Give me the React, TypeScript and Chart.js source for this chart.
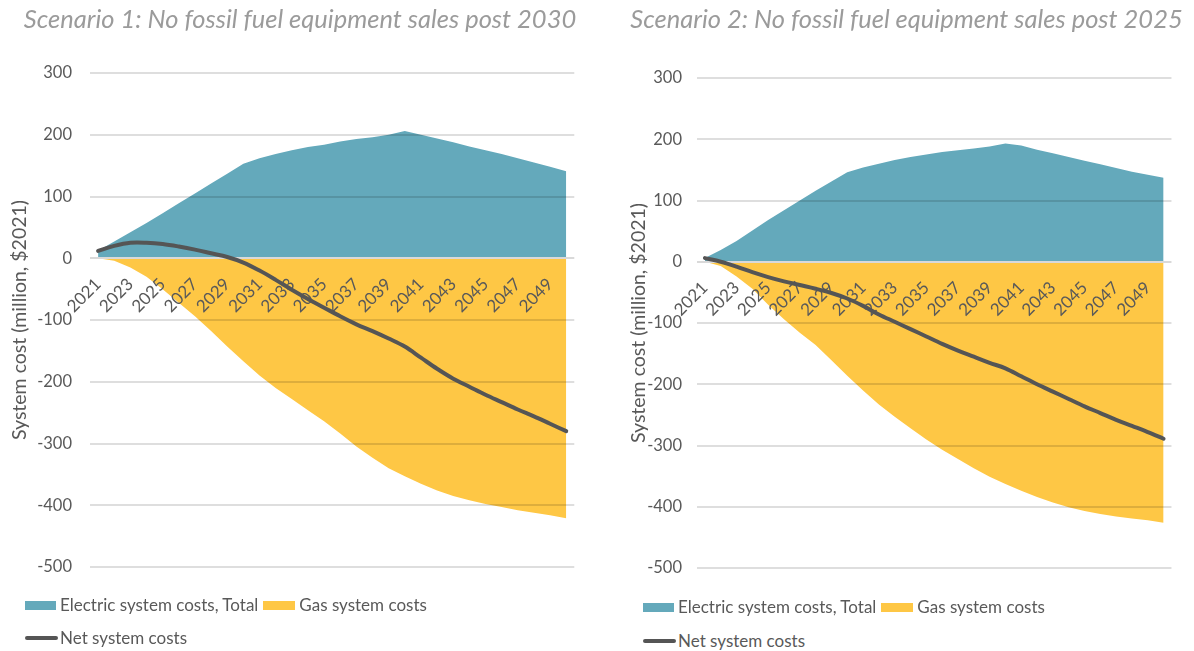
import React, { useEffect, useRef } from 'react';
import { Chart, registerables } from 'chart.js';

Chart.register(...registerables);

// ---------- data ----------
const years = [
  '2021', '2022', '2023', '2024', '2025', '2026', '2027', '2028', '2029', '2030',
  '2031', '2032', '2033', '2034', '2035', '2036', '2037', '2038', '2039', '2040',
  '2041', '2042', '2043', '2044', '2045', '2046', '2047', '2048', '2049', '2050',
];

const yMin = -500;
const yMax = 300;
const yStep = 100;

const titles = [
  'Scenario 1: No fossil fuel equipment sales post 2030',
  'Scenario 2: No fossil fuel equipment sales post 2025',
];

const seriesNames = ['Electric system costs, Total', 'Gas system costs', 'Net system costs'];
const yAxisTitle = 'System cost (million, $2021)';

// Scenario 1
const s1Electric = [
  12, 27, 42, 57, 73, 89, 105, 121, 137, 153,
  162, 169, 175, 180, 184, 189, 193, 196, 200, 206,
  200, 194, 188, 181, 175, 169, 162, 155, 148, 141,
];
const s1Gas = [
  0, -4, -15, -30, -50, -72, -94, -118, -143, -167,
  -190, -210, -228, -246, -264, -284, -305, -323, -340, -353,
  -365, -376, -385, -392, -398, -403, -408, -412, -416, -421,
];
const s1Net = [
  12, 20, 25, 25, 23, 19, 14, 8, 2, -7,
  -20, -35, -51, -66, -80, -94, -107, -118, -130, -143,
  -161, -179, -195, -208, -221, -233, -245, -256, -268, -280,
];

// Scenario 2
const s2Electric = [
  6, 19, 34, 51, 68, 84, 100, 116, 131, 146,
  154, 160, 166, 171, 175, 179, 182, 185, 188, 193,
  190, 183, 177, 171, 165, 159, 153, 147, 142, 137,
];
const s2Gas = [
  0, -7, -24, -44, -70, -94, -116, -136, -161, -186,
  -210, -233, -253, -272, -290, -307, -322, -337, -351, -363,
  -374, -384, -393, -401, -407, -412, -416, -419, -422, -426,
];
const s2Net = [
  6, 0, -8, -17, -25, -32, -38, -44, -51, -60,
  -72, -86, -98, -110, -122, -134, -145, -155, -165, -174,
  -187, -200, -212, -224, -236, -247, -258, -268, -278, -289,
];

// ---------- style ----------
const TEAL = '#64A9BB';
const YELLOW = '#FEC745';
const NET = '#555555';
const TEXT = '#595959';
const TITLE = '#9B9B9B';
const FONT = 'Lato, "Noto Sans", sans-serif';

type ChartProps = {
  electric: number[];
  gas: number[];
  net: number[];
  left: number;
  width: number;
  height: number;
  padding: { top: number; left: number; right: number; bottom: number };
  yAxisWidth: number;
  tickPad: number;
  titlePad: number;
};

function ScenarioChart(p: ChartProps) {
  const ref = useRef<HTMLCanvasElement | null>(null);

  useEffect(() => {
    if (!ref.current) return;
    const chart = new Chart(ref.current, {
      type: 'line',
      data: {
        labels: years,
        datasets: [
          {
            label: seriesNames[0],
            data: p.electric,
            backgroundColor: TEAL,
            borderColor: 'rgba(0,0,0,0)',
            borderWidth: 0,
            pointRadius: 0,
            fill: 'origin',
            tension: 0,
          },
          {
            label: seriesNames[1],
            data: p.gas,
            backgroundColor: YELLOW,
            borderColor: 'rgba(0,0,0,0)',
            borderWidth: 0,
            pointRadius: 0,
            fill: 'origin',
            tension: 0,
          },
          {
            label: seriesNames[2],
            data: p.net,
            borderColor: NET,
            borderWidth: 4,
            pointRadius: 0,
            fill: false,
            tension: 0.35,
            borderCapStyle: 'round',
          },
        ],
      },
      options: {
        animation: false,
        responsive: false,
        devicePixelRatio: 1,
        layout: { padding: p.padding },
        plugins: {
          legend: { display: false },
          title: { display: false },
          tooltip: { enabled: false },
          filler: { drawTime: 'beforeDraw' },
        } as any,
        scales: {
          x: {
            type: 'category',
            axis: 'x',
            position: { y: 0 },
            offset: true,
            grid: { display: false, drawTicks: false },
            border: { display: false },
            ticks: {
              autoSkip: false,
              maxRotation: 45,
              minRotation: 45,
              padding: 16,
              color: TEXT,
              font: { family: FONT, size: 17 },
              callback: (_v: any, i: number) => (i % 2 === 0 ? years[i] : ''),
            },
          } as any,
          y: {
            type: 'linear',
            position: 'left',
            min: yMin,
            max: yMax,
            ticks: {
              stepSize: yStep,
              padding: p.tickPad,
              color: TEXT,
              font: { family: FONT, size: 16.5 },
            },
            grid: {
              drawTicks: false,
              lineWidth: 2,
              color: (ctx: any) => (ctx.tick && ctx.tick.value === 0 ? '#D9D9D9' : 'rgba(0,0,0,0.13)'),
            },
            border: { display: false },
            title: {
              display: true,
              text: yAxisTitle,
              color: TEXT,
              font: { family: FONT, size: 19.5 },
              padding: { top: p.titlePad, bottom: 0 },
            },
            afterFit: (scale: any) => {
              scale.width = p.yAxisWidth;
            },
          },
        },
      },
    });
    return () => chart.destroy();
  }, []);

  return (
    <canvas
      ref={ref}
      width={p.width}
      height={p.height}
      style={{ position: 'absolute', left: p.left, top: 0, width: p.width, height: p.height }}
    />
  );
}

function Legend({ left, top1, top2 }: { left: number; top1: number; top2: number }) {
  const txt: React.CSSProperties = {
    fontFamily: FONT,
    fontSize: 17,
    color: TEXT,
    lineHeight: '20px',
    whiteSpace: 'nowrap',
  };
  return (
    <>
      <div style={{ position: 'absolute', left, top: top1 - 10, display: 'flex', alignItems: 'center', height: 20 }}>
        <span style={{ width: 31, height: 9, background: TEAL, marginRight: 4, display: 'inline-block' }} />
        <span style={txt}>{seriesNames[0]}</span>
        <span style={{ width: 32, height: 9, background: YELLOW, marginLeft: 5, marginRight: 4, display: 'inline-block' }} />
        <span style={txt}>{seriesNames[1]}</span>
      </div>
      <div style={{ position: 'absolute', left, top: top2 - 10, display: 'flex', alignItems: 'center', height: 20 }}>
        <span style={{ width: 33, height: 4, background: NET, borderRadius: 2, marginRight: 2, display: 'inline-block' }} />
        <span style={txt}>{seriesNames[2]}</span>
      </div>
    </>
  );
}

export default function App() {
  const titleStyle: React.CSSProperties = {
    position: 'absolute',
    top: 3,
    fontFamily: FONT,
    fontStyle: 'italic',
    fontSize: 25.5,
    lineHeight: '30px',
    color: TITLE,
    textAlign: 'center',
    whiteSpace: 'nowrap',
  };
  return (
    <div
      style={{
        position: 'absolute',
        left: 0,
        top: 0,
        width: 1194,
        height: 651,
        overflow: 'hidden',
        background: '#ffffff',
      }}
    >
      <ScenarioChart
        electric={s1Electric}
        gas={s1Gas}
        net={s1Net}
        left={0}
        width={597}
        height={597}
        padding={{ top: 73, left: 0, right: 21, bottom: 30 }}
        yAxisWidth={90}
        tickPad={18}
        titlePad={8}
      />
      <ScenarioChart
        electric={s2Electric}
        gas={s2Gas}
        net={s2Net}
        left={600}
        width={594}
        height={598}
        padding={{ top: 78, left: 23, right: 0, bottom: 30 }}
        yAxisWidth={74}
        tickPad={15}
        titlePad={4}
      />
      <div style={{ ...titleStyle, left: 0, width: 600 }}>{titles[0]}</div>
      <div style={{ ...titleStyle, left: 613, width: 587 }}>{titles[1]}</div>
      <Legend left={25} top1={605} top2={638} />
      <Legend left={643} top1={607} top2={641} />
    </div>
  );
}
